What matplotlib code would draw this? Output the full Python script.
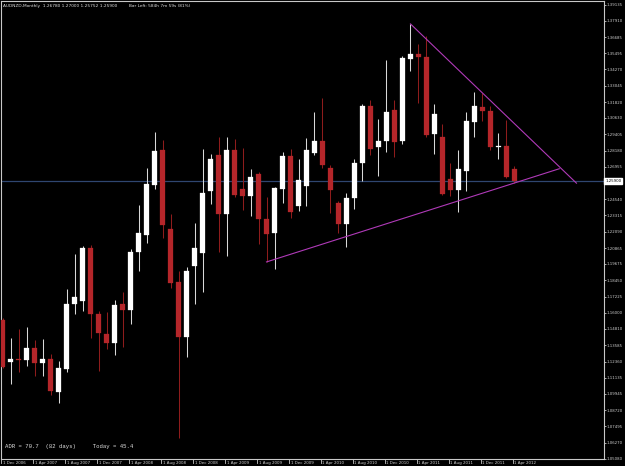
import numpy as np
import matplotlib
matplotlib.use("Agg")
import matplotlib.pyplot as plt
import matplotlib.transforms as mtransforms

# AUDNZD monthly candles, Dec 2006 .. Apr 2012
opens = [1.1548, 1.1233, 1.1255, 1.1248, 1.1338, 1.1225, 1.1255, 1.1008, 1.1180, 1.1668,
         1.1690, 1.2088, 1.1593, 1.1443, 1.1375, 1.1668, 1.1623, 1.2058, 1.2185, 1.2560,
         1.2823, 1.2230, 1.1833, 1.1420, 1.1953, 1.2050, 1.2515, 1.2785, 1.2343, 1.2823,
         1.2530, 1.2478, 1.2643, 1.2305, 1.2200, 1.2530, 1.2778, 1.2403, 1.2553, 1.2800,
         1.2890, 1.2688, 1.2425, 1.2268, 1.2463, 1.2725, 1.3153, 1.2845, 1.2890, 1.3123,
         1.2890, 1.3505, 1.3543, 1.3520, 1.2943, 1.2920, 1.2605, 1.2523, 1.2665, 1.3033,
         1.3145, 1.3115, 1.2845, 1.2853, 1.2678]
highs = [1.1563, 1.1413, 1.1480, 1.1495, 1.1398, 1.1405, 1.1293, 1.1240, 1.1780, 1.2043,
         1.2103, 1.2110, 1.1615, 1.1608, 1.1698, 1.1758, 1.2080, 1.2410, 1.2688, 1.2958,
         1.2898, 1.2343, 1.1915, 1.1945, 1.2275, 1.2830, 1.2793, 1.2920, 1.2920, 1.2905,
         1.2838, 1.2680, 1.2658, 1.2470, 1.2545, 1.2808, 1.2830, 1.2755, 1.2913, 1.3108,
         1.3213, 1.2710, 1.2440, 1.2500, 1.2755, 1.3168, 1.3198, 1.3055, 1.3498, 1.3198,
         1.3528, 1.3768, 1.3618, 1.3678, 1.3168, 1.3018, 1.2725, 1.2823, 1.3108, 1.3258,
         1.3250, 1.3153, 1.2950, 1.3048, 1.2700]
lows = [1.1188, 1.1068, 1.1158, 1.1203, 1.1128, 1.1128, 1.0985, 1.0925, 1.1158, 1.1593,
        1.1615, 1.1413, 1.1165, 1.1330, 1.1285, 1.1345, 1.1518, 1.1915, 1.2125, 1.2530,
        1.2163, 1.1788, 1.0663, 1.1270, 1.1668, 1.1758, 1.2418, 1.2058, 1.2028, 1.2470,
        1.2373, 1.2328, 1.2118, 1.1983, 1.1930, 1.2425, 1.2313, 1.2365, 1.2403, 1.2785,
        1.2688, 1.2350, 1.2200, 1.2095, 1.2380, 1.2590, 1.2785, 1.2628, 1.2808, 1.2770,
        1.2868, 1.3415, 1.3175, 1.2920, 1.2793, 1.2485, 1.2478, 1.2358, 1.2515, 1.2920,
        1.3040, 1.2823, 1.2755, 1.2613, 1.2575]
closes = [1.1195, 1.1255, 1.1248, 1.1338, 1.1225, 1.1255, 1.1015, 1.1188, 1.1668, 1.1720,
          1.2088, 1.1593, 1.1450, 1.1375, 1.1660, 1.1623, 1.2058, 1.2200, 1.2568, 1.2815,
          1.2260, 1.1825, 1.1420, 1.1915, 1.2088, 1.2500, 1.2755, 1.2343, 1.2823, 1.2485,
          1.2478, 1.2620, 1.2305, 1.2193, 1.2538, 1.2778, 1.2358, 1.2598, 1.2823, 1.2890,
          1.2710, 1.2523, 1.2268, 1.2463, 1.2725, 1.3153, 1.2830, 1.2890, 1.3108, 1.2883,
          1.3513, 1.3543, 1.3520, 1.2935, 1.3093, 1.2493, 1.2523, 1.2680, 1.3040, 1.3153,
          1.3115, 1.2845, 1.2853, 1.2620, 1.2590]

date_labels = ["1 Dec 2006", "1 Apr 2007", "1 Aug 2007", "1 Dec 2007", "1 Apr 2008",
               "1 Aug 2008", "1 Dec 2008", "1 Apr 2009", "1 Aug 2009", "1 Dec 2009",
               "1 Apr 2010", "1 Aug 2010", "1 Dec 2010", "1 Apr 2011", "1 Aug 2011",
               "1 Dec 2011", "1 Apr 2012"]
price_ticks = [1.39135, 1.37910, 1.36685, 1.35495, 1.34270, 1.33045, 1.31820, 1.30630,
               1.29405, 1.28180, 1.26955, 1.24540, 1.23315, 1.22090, 1.20865, 1.19675,
               1.18450, 1.17225, 1.16000, 1.14810, 1.13585, 1.12360, 1.11135, 1.09945,
               1.08720, 1.07495, 1.06270, 1.05080]

# trend lines: (anchor bar 1, anchor bar 2, bar where the ray stops)
resist_bars = (51, 60, 71.75)
support_bars = (33, 64, 69.6)

header = "AUDNZD,Monthly  1.26780 1.27000 1.25752 1.25900"
bar_left = "Bar Left: 584h 7m 59s (81%)"
adr_text = "ADR = 70.7  (82 days)     Today = 45.4"

o = np.array(opens); h = np.array(highs); l = np.array(lows); c = np.array(closes)
idx = np.arange(len(o))
up = c >= o

W, H = 625, 466
fig = plt.figure(figsize=(W / 100, H / 100), dpi=100, facecolor="black")
ax = fig.add_axes([1 / W, 7 / H, 603 / W, 458 / H], facecolor="black")
ax.set_xlim(-0.19, 75.19)
ax.set_ylim(1.0505, 1.394)

# wicks then bodies
ax.vlines(idx[up], l[up], h[up], color="#d8d8d8", lw=0.75, zorder=2)
ax.vlines(idx[~up], l[~up], h[~up], color="#8e1c1c", lw=0.75, zorder=2)
body_lo = np.minimum(o, c)
body_h = np.maximum(np.abs(c - o), 0.0008)
ax.bar(idx[up], body_h[up], bottom=body_lo[up], width=0.64, color="white",
       edgecolor="white", lw=0.2, zorder=3)
ax.bar(idx[~up], body_h[~up], bottom=body_lo[~up], width=0.64, color="#b5262a",
       edgecolor="#b5262a", lw=0.2, zorder=3)

# current price line
last = closes[-1]
ax.axhline(last, color="#2f4670", lw=0.9, zorder=1)

# trend lines
def ray(a, b, end, yvals):
    slope = (yvals[b] - yvals[a]) / (b - a)
    return [a, end], [yvals[a], yvals[a] + slope * (end - a)]

xs, ys = ray(resist_bars[0], resist_bars[1], resist_bars[2], h)
ax.plot(xs, ys, color="#b03ab8", lw=0.8, zorder=4)
xs, ys = ray(support_bars[0], support_bars[1], support_bars[2], l)
ax.plot(xs, ys, color="#b03ab8", lw=0.8, zorder=4)

# frame
for s in ax.spines.values():
    s.set_color("#c8c8c8")
    s.set_linewidth(0.8)

# price axis on the right
ax.yaxis.tick_right()
ax.set_yticks(price_ticks)
ax.set_yticklabels([f"{p:.5f}" for p in price_ticks])
ax.tick_params(axis="y", colors="#c8c8c8", labelcolor="#d0d0d0", labelsize=2.8,
               length=1.5, width=0.6, pad=0.6)
ax.text(1.002, last, f"{last:.5f}",
        transform=mtransforms.blended_transform_factory(ax.transAxes, ax.transData),
        ha="left", va="center", fontsize=2.8, color="black",
        bbox=dict(boxstyle="square,pad=0.2", fc="white", ec="white"))

# date axis
ax.set_xticks([])
trans = mtransforms.blended_transform_factory(ax.transData, ax.transAxes)
for j, lab in enumerate(date_labels):
    k = j * 4
    ax.plot([k - 0.2, k - 0.2], [0, -0.008], transform=trans, color="#c8c8c8",
            lw=0.6, clip_on=False)
    ax.text(k, -0.008, lab, transform=trans, ha="left", va="center",
            fontsize=2.9, color="#d0d0d0", clip_on=False)

# overlay texts
ax.text(0.004, 0.988, header, transform=ax.transAxes, ha="left", va="center",
        fontsize=3.05, color="#e0e0e0")
ax.text(0.212, 0.988, bar_left, transform=ax.transAxes, ha="left", va="center",
        fontsize=3.05, color="#e0e0e0")
ax.text(0.007, 0.027, adr_text, transform=ax.transAxes, ha="left", va="center",
        fontsize=4.1, color="#e0e0e0", family="Liberation Mono")

fig.savefig("out.png", dpi=100, facecolor="black")
